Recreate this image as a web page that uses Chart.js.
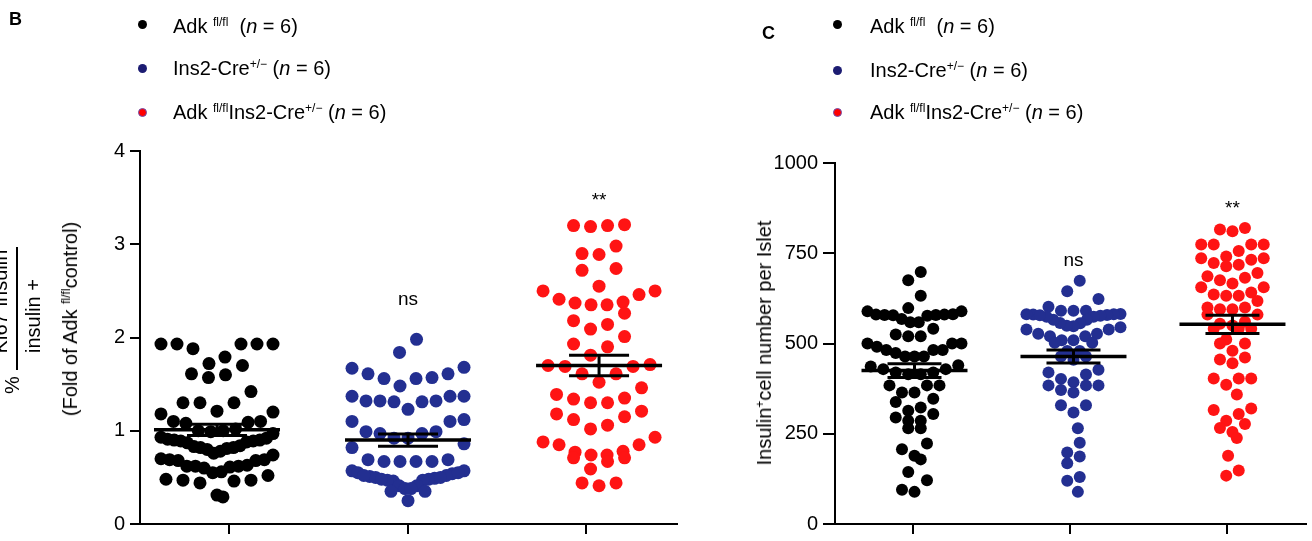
<!DOCTYPE html>
<html>
<head>
<meta charset="utf-8">
<script src="https://cdn.jsdelivr.net/npm/chart.js@4.4.1/dist/chart.umd.min.js"></script>
<style>
  html, body { margin: 0; padding: 0; background: #fff; }
  body { width: 1312px; height: 541px; position: relative; overflow: hidden;
         font-family: "Liberation Sans", Arial, sans-serif; color: #000; }
  canvas { position: absolute; top: 0; }
  .letter { position: absolute; font-weight: bold; font-size: 18px; line-height: 1; }
  .row { position: absolute; height: 24px; line-height: 24px; font-size: 20px; white-space: nowrap; }
  .dot { position: absolute; width: 9px; height: 9px; border-radius: 50%; box-sizing: border-box; }
  sup { font-size: 12px; vertical-align: 7px; line-height: 0; }
  .rot { position: absolute; transform: translate(-50%, -50%) rotate(-90deg); white-space: nowrap;
         font-size: 20px; line-height: 1; }
  .bar { position: absolute; background: #000; }
</style>
</head>
<body>

<canvas id="ki67" width="700" height="541" style="left:0"></canvas>
<canvas id="cells" width="612" height="541" style="left:700px"></canvas>

<!-- panel B labels -->
<div class="letter" style="left:9px;top:10px">B</div>
<div class="dot" style="left:138px;top:20px;background:#000"></div>
<div class="row" style="left:173px;top:14px">Adk <sup>fl/fl</sup>&nbsp; (<i>n</i> = 6)</div>
<div class="dot" style="left:138px;top:64px;background:#1c1c72"></div>
<div class="row" style="left:173px;top:56px">Ins2-Cre<sup>+/−</sup> (<i>n</i> = 6)</div>
<div class="dot" style="left:138px;top:108px;background:#ff0000;border:1px solid #6b4fb0"></div>
<div class="row" style="left:173px;top:100px">Adk <sup>fl/fl</sup>Ins2-Cre<sup>+/−</sup> (<i>n</i> = 6)</div>

<div class="rot" style="left:0px;top:298px">Ki67<sup>+</sup>insulin<sup>+</sup></div>
<div class="bar" style="left:16px;top:247px;width:2px;height:123px"></div>
<div class="rot" style="left:33px;top:316px">insulin +</div>
<div class="rot" style="left:12px;top:385px">%</div>
<div class="rot" style="left:70px;top:319px">(Fold of Adk <sup>fl/fl</sup>control)</div>

<!-- panel C labels -->
<div class="letter" style="left:762px;top:24px">C</div>
<div class="dot" style="left:833px;top:20px;background:#000"></div>
<div class="row" style="left:870px;top:14px">Adk <sup>fl/fl</sup>&nbsp; (<i>n</i> = 6)</div>
<div class="dot" style="left:833px;top:66px;background:#1c1c72"></div>
<div class="row" style="left:870px;top:58px">Ins2-Cre<sup>+/−</sup> (<i>n</i> = 6)</div>
<div class="dot" style="left:833px;top:108px;background:#ff0000;border:1px solid #6b4fb0"></div>
<div class="row" style="left:870px;top:100px">Adk <sup>fl/fl</sup>Ins2-Cre<sup>+/−</sup> (<i>n</i> = 6)</div>

<div class="rot" style="left:764px;top:343px">Insulin<sup>+</sup>cell number per Islet</div>

<script>
const groups = ['Adk fl/fl', 'Ins2-Cre+/−', 'Adk fl/fl Ins2-Cre+/−'];
const groupColors = ['#000000', '#232f91', '#ff1414'];

// Panel B: Ki67+ insulin+ / insulin+ (fold of control)
const ki67Ctrl = [1.93, 1.93, 1.93, 1.93, 1.93, 1.88, 1.79, 1.72, 1.70, 1.61, 1.60, 1.57, 1.42,
  1.30, 1.30, 1.30, 1.21, 1.20, 1.18, 1.10, 1.10, 1.09, 1.08, 1.02, 1.00, 1.00, 0.99, 0.97,
  0.93, 0.92, 0.91, 0.90, 0.90, 0.89, 0.89, 0.88, 0.87, 0.84, 0.83, 0.82, 0.82, 0.81, 0.80,
  0.78, 0.76, 0.74, 0.70, 0.69, 0.69, 0.68, 0.68, 0.63, 0.62, 0.62, 0.62, 0.61, 0.60, 0.56,
  0.55, 0.52, 0.48, 0.47, 0.47, 0.46, 0.44, 0.31, 0.29];
const ki67Cre = [1.98, 1.84, 1.68, 1.67, 1.61, 1.61, 1.57, 1.56, 1.56, 1.48, 1.37, 1.37, 1.37,
  1.32, 1.32, 1.31, 1.32, 1.31, 1.23, 1.12, 1.10, 1.10, 0.99, 0.99, 0.97, 0.97, 0.92, 0.92,
  0.86, 0.82, 0.69, 0.69, 0.67, 0.67, 0.67, 0.67, 0.57, 0.57, 0.55, 0.54, 0.52, 0.51, 0.50,
  0.49, 0.48, 0.47, 0.46, 0.47, 0.48, 0.50, 0.52, 0.55, 0.41, 0.41, 0.38, 0.38, 0.35, 0.35, 0.25];
const ki67Ko = [3.21, 3.20, 3.20, 3.19, 2.98, 2.90, 2.89, 2.74, 2.72, 2.55, 2.50, 2.50, 2.46,
  2.41, 2.38, 2.35, 2.35, 2.37, 2.26, 2.18, 2.14, 2.09, 2.01, 1.93, 1.90, 1.81, 1.70, 1.69,
  1.71, 1.69, 1.61, 1.61, 1.52, 1.46, 1.39, 1.34, 1.35, 1.30, 1.30, 1.21, 1.18, 1.15, 1.12,
  1.06, 1.02, 0.93, 0.88, 0.85, 0.85, 0.78, 0.77, 0.74, 0.74, 0.71, 0.71, 0.67, 0.59, 0.44,
  0.44, 0.41];
const ki67Means = [1.01, 0.90, 1.70];
const ki67Sem = [0.06, 0.065, 0.11];
const ki67Ticks = [0, 1, 2, 3, 4];
const ki67Sig = ['', 'ns', '**'];
const ki67SigAt = [null, 2.40, 3.47];

// Panel C: insulin+ cell number per islet
const cellsCtrl = [698, 675, 632, 598, 589, 589, 579, 580, 578, 581, 579, 577, 580, 568, 559,
  559, 541, 525, 520, 520, 500, 500, 500, 491, 482, 482, 482, 474, 464, 464, 464, 440, 436,
  429, 429, 420, 420, 415, 415, 384, 384, 384, 364, 364, 347, 338, 323, 314, 305, 295, 286,
  286, 265, 265, 223, 207, 189, 179, 144, 121, 95, 89];
const cellsCre = [674, 645, 623, 602, 591, 591, 591, 582, 581, 580, 579, 577, 574, 566, 556,
  548, 545, 549, 557, 566, 574, 578, 581, 539, 539, 527, 527, 520, 520, 509, 509, 502, 502,
  479, 479, 464, 464, 455, 427, 420, 414, 402, 393, 384, 384, 384, 371, 364, 329, 329, 309,
  265, 225, 198, 187, 168, 130, 120, 89];
const cellsKo = [820, 816, 811, 774, 774, 774, 774, 756, 741, 736, 736, 732, 723, 718, 714,
  695, 686, 682, 675, 666, 656, 656, 641, 636, 632, 632, 618, 600, 600, 595, 595, 580, 580,
  560, 555, 550, 541, 541, 541, 511, 500, 500, 480, 461, 456, 445, 403, 403, 403, 386, 359,
  320, 316, 305, 286, 277, 266, 255, 238, 189, 148, 134];
const cellsMeans = [425, 464, 553];
const cellsSem = [19, 18, 25];
const cellsTicks = [0, 250, 500, 750, 1000];
const cellsSig = ['', 'ns', '**'];
const cellsSigAt = [null, 730, 872];

// GraphPad-like scatter: points are grouped in horizontal bands, each band is
// spread around the column centre (lowest points in the middle), capped in width
function bands(py, bandH, step, maxHalf) {
  const order = py.map((_, i) => i).sort((a, b) => py[a] - py[b]);
  const out = new Array(py.length).fill(0);
  let band = [];
  let prevLone = 0;
  const flush = () => {
    if (!band.length) return;
    const n = band.length;
    if (n === 1) {
      // lone points zig-zag a little so a vertical run does not stack
      prevLone = prevLone > 0 ? -step * 0.35 : step * 0.35;
      out[band[0]] = prevLone;
    } else {
      const sp = Math.min(step, (2 * maxHalf) / (n - 1));
      const slots = [];
      for (let k = 0; k < n; k++) slots.push((k - (n - 1) / 2) * sp);
      slots.sort((a, b) => Math.abs(a) - Math.abs(b) || a - b);
      const byLow = band.slice().sort((a, b) => py[b] - py[a]);
      byLow.forEach((idx, k) => { out[idx] = slots[k]; });
      prevLone = 0;
    }
    band = [];
  };
  let top = null;
  for (const i of order) {
    if (top === null || py[i] - top > bandH) { flush(); top = py[i]; }
    band.push(i);
  }
  flush();
  return out;
}

const meanSem = {
  id: 'meanSem',
  afterDatasetsDraw(chart, args, o) {
    const { ctx, scales: { x, y } } = chart;
    ctx.save();
    ctx.strokeStyle = '#000';
    ctx.fillStyle = '#000';
    const seg = (x1, y1, x2, y2) => { ctx.beginPath(); ctx.moveTo(x1, y1); ctx.lineTo(x2, y2); ctx.stroke(); };
    o.means.forEach((m, g) => {
      const cx = x.getPixelForValue(g + 1);
      const ym = y.getPixelForValue(m);
      const yt = y.getPixelForValue(m + o.sem[g]);
      const yb = y.getPixelForValue(m - o.sem[g]);
      ctx.lineWidth = o.meanWidth;
      seg(cx - o.meanHalf, ym, cx + o.meanHalf, ym);
      ctx.lineWidth = o.capWidth;
      seg(cx - o.capHalf, yt, cx + o.capHalf, yt);
      seg(cx - o.capHalf, yb, cx + o.capHalf, yb);
      seg(cx, yt, cx, yb);
      if (o.sig[g]) {
        ctx.font = '19px "Liberation Sans", Arial, sans-serif';
        ctx.textAlign = 'center';
        ctx.textBaseline = 'middle';
        ctx.fillText(o.sig[g], cx, y.getPixelForValue(o.sigAt[g]));
      }
    });
    ctx.restore();
  }
};

function makePanel(id, cfg) {
  const datasets = cfg.series.map((vals, g) => ({
    label: groups[g],
    data: vals.map(v => ({ x: g + 1, y: v })),
    backgroundColor: groupColors[g],
    borderWidth: 0,
    pointRadius: cfg.radius,
    pointHoverRadius: cfg.radius
  }));

  const chart = new Chart(document.getElementById(id), {
    type: 'scatter',
    data: { datasets },
    options: {
      responsive: false,
      animation: false,
      layout: { padding: cfg.padding },
      plugins: {
        legend: { display: false },
        tooltip: { enabled: false },
        meanSem: {
          means: cfg.means, sem: cfg.sem, sig: cfg.sig, sigAt: cfg.sigAt,
          meanHalf: cfg.meanHalf, capHalf: cfg.capHalf, meanWidth: 3.5, capWidth: 3
        }
      },
      scales: {
        x: {
          type: 'linear',
          min: cfg.xMin,
          max: cfg.xMax,
          afterBuildTicks: s => { s.ticks = cfg.xTicks.map(v => ({ value: v })); },
          afterFit: s => { s.height = 10; },
          ticks: { display: false },
          grid: { drawOnChartArea: false, drawTicks: true, tickLength: 10, color: '#000', lineWidth: 2 },
          border: { color: '#000', width: 2 }
        },
        y: {
          min: 0,
          max: cfg.yTicks[cfg.yTicks.length - 1],
          afterBuildTicks: s => { s.ticks = cfg.yTicks.map(v => ({ value: v })); },
          afterFit: s => { s.width = cfg.yAxisWidth; },
          ticks: {
            color: '#000', padding: 5, font: { family: 'Liberation Sans', size: 20 },
            callback: v => String(v)
          },
          grid: { drawOnChartArea: false, drawTicks: true, tickLength: cfg.yTickLen, color: '#000', lineWidth: 2 },
          border: { color: '#000', width: 2 }
        }
      }
    },
    plugins: [meanSem]
  });

  // spread the dots sideways now that the scales are known
  const xs = chart.scales.x, ys = chart.scales.y;
  const pxPerUnit = xs.getPixelForValue(2) - xs.getPixelForValue(1);
  chart.data.datasets.forEach((ds, g) => {
    const vals = cfg.series[g];
    const off = bands(vals.map(v => ys.getPixelForValue(v)), cfg.bandH, cfg.step, cfg.maxHalf);
    ds.data = vals.map((v, i) => ({ x: g + 1 + off[i] / pxPerUnit, y: v }));
  });
  chart.update('none');
  return chart;
}

makePanel('ki67', {
  series: [ki67Ctrl, ki67Cre, ki67Ko],
  means: ki67Means, sem: ki67Sem, sig: ki67Sig, sigAt: ki67SigAt,
  yTicks: ki67Ticks,
  xMin: 0.597, xMax: 3.408, xTicks: [1.063, 2, 2.932],
  padding: { left: 0, top: 151, right: 23, bottom: 0 },
  yAxisWidth: 140, yTickLen: 10,
  radius: 6.5, bandH: 20, step: 17, maxHalf: 56, meanHalf: 63, capHalf: 30
});

makePanel('cells', {
  series: [cellsCtrl, cellsCre, cellsKo],
  means: cellsMeans, sem: cellsSem, sig: cellsSig, sigAt: cellsSigAt,
  yTicks: cellsTicks,
  xMin: 0.5, xMax: 3.4625, xTicks: [0.9875, 1.98, 2.9625],
  padding: { left: 0, top: 163, right: 3, bottom: 1 },
  yAxisWidth: 135, yTickLen: 12,
  radius: 6, bandH: 13, step: 12.5, maxHalf: 47, meanHalf: 53, capHalf: 27
});
</script>
</body>
</html>
